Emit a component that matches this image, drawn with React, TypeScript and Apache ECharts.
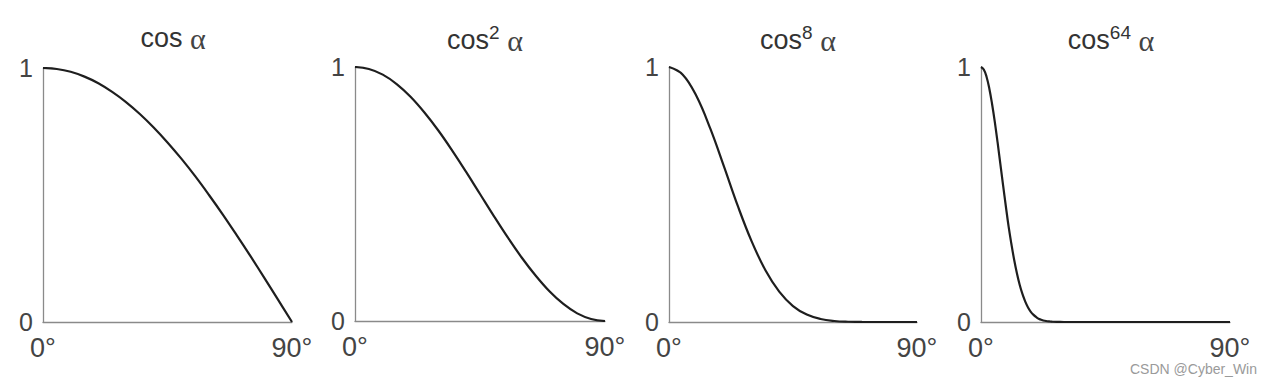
import React, { useEffect, useRef } from "react";
import * as echarts from "echarts";

// angles (degrees) and curve values
const angles = [0, 5, 10, 15, 20, 25, 30, 35, 40, 45, 50, 55, 60, 65, 70, 75, 80, 85, 90];
const cosValues = [1, 0.996, 0.985, 0.966, 0.94, 0.906, 0.866, 0.819, 0.766, 0.707, 0.643, 0.574, 0.5, 0.423, 0.342, 0.259, 0.174, 0.087, 0];
const cos2Values = [1, 0.992, 0.97, 0.933, 0.883, 0.821, 0.75, 0.671, 0.587, 0.5, 0.413, 0.329, 0.25, 0.179, 0.117, 0.067, 0.03, 0.008, 0];
const cos8Values = [1, 0.97, 0.885, 0.758, 0.608, 0.454, 0.316, 0.203, 0.119, 0.0625, 0.029, 0.0117, 0.0039, 0.001, 0.0002, 0, 0, 0, 0];
const angles64 = [0, 1, 2, 3, 4, 5, 6, 7, 8, 9, 10, 11, 12, 13, 14, 15, 16, 17, 18, 19, 20, 21, 22, 23, 24, 25, 26, 28, 30, 45, 60, 75, 90];
const cos64Values = [1, 0.99, 0.962, 0.916, 0.855, 0.784, 0.704, 0.619, 0.535, 0.452, 0.373, 0.305, 0.243, 0.19, 0.145, 0.109, 0.08, 0.057, 0.04, 0.028, 0.019, 0.012, 0.008, 0.005, 0.003, 0.002, 0.001, 0.0004, 0, 0, 0, 0, 0];

const titles = ["cos {a|α}", "cos{s|2} {a|α}", "cos{s|8} {a|α}", "cos{s|64} {a|α}"];
const xTickLabels = ["0°", "90°"];
const yTickLabels = ["0", "1"];

const FONT = "Liberation Sans, Arial, Helvetica, sans-serif";

export default function App() {
  const ref = useRef<HTMLDivElement>(null);

  useEffect(() => {
    document.body.style.margin = "0";
    const chart = echarts.init(ref.current!, undefined, { renderer: "svg" });

    const grids = [
      { left: 43, right: 1267 - 292, top: 68, bottom: 379 - 322 },
      { left: 355, right: 1267 - 605, top: 67, bottom: 379 - 321 },
      { left: 669, right: 1267 - 917, top: 67, bottom: 379 - 322 },
      { left: 981, right: 1267 - 1230, top: 67, bottom: 379 - 322 },
    ];
    const titleCenters = [168, 480, 793, 1106];

    const seriesData = [
      angles.map((a, i) => [a, cosValues[i]]),
      angles.map((a, i) => [a, cos2Values[i]]),
      angles.map((a, i) => [a, cos8Values[i]]),
      angles64.map((a, i) => [a, cos64Values[i]]),
    ];

    const option: any = {
      animation: false,
      backgroundColor: "#ffffff",
      title: titles.map((t, i) => ({
        text: t,
        left: titleCenters[i],
        top: 18,
        textAlign: "center",
        textStyle: {
          fontFamily: FONT,
          fontSize: 27,
          fontWeight: "normal",
          color: "#333",
          rich: {
            s: {
              fontFamily: FONT,
              fontSize: 19,
              color: "#333",
              padding: [0, 0, 15, 0],
            },
            a: {
              fontFamily: "Liberation Serif, DejaVu Serif, serif",
              fontSize: 30,
              color: "#444",
            },
          },
        },
      })),
      grid: grids,
      xAxis: grids.map((_, i) => ({
        type: "value",
        gridIndex: i,
        min: 0,
        max: 90,
        interval: 90,
        axisLine: { show: true, onZero: false, lineStyle: { color: "#8a8a8a", width: 1.3 } },
        axisTick: { show: false },
        splitLine: { show: false },
        axisLabel: {
          margin: 12,
          fontFamily: FONT,
          fontSize: 27,
          color: "#444",
          formatter: (v: number) => (v === 0 ? xTickLabels[0] : xTickLabels[1]),
        },
      })),
      yAxis: grids.map((_, i) => ({
        type: "value",
        gridIndex: i,
        min: 0,
        max: 1,
        interval: 1,
        axisLine: { show: true, lineStyle: { color: "#8a8a8a", width: 1.3 } },
        axisTick: { show: false },
        splitLine: { show: false },
        axisLabel: {
          margin: 10,
          fontFamily: FONT,
          fontSize: 25,
          color: "#444",
          formatter: (v: number) => (v === 0 ? yTickLabels[0] : yTickLabels[1]),
        },
      })),
      series: seriesData.map((d, i) => ({
        type: "line",
        xAxisIndex: i,
        yAxisIndex: i,
        data: d,
        smooth: 0.4,
        symbol: "none",
        lineStyle: { color: "#1e1e1e", width: 2.2 },
      })),
      graphic: [
        {
          type: "text",
          x: 1130,
          y: 369,
          style: {
            text: "CSDN @Cyber_Win",
            font: `14px ${FONT}`,
            fill: "#9a9a9a",
            textVerticalAlign: "middle",
          },
        },
      ],
    };

    chart.setOption(option);
    return () => chart.dispose();
  }, []);

  return <div ref={ref} style={{ width: 1267, height: 379 }} />;
}
